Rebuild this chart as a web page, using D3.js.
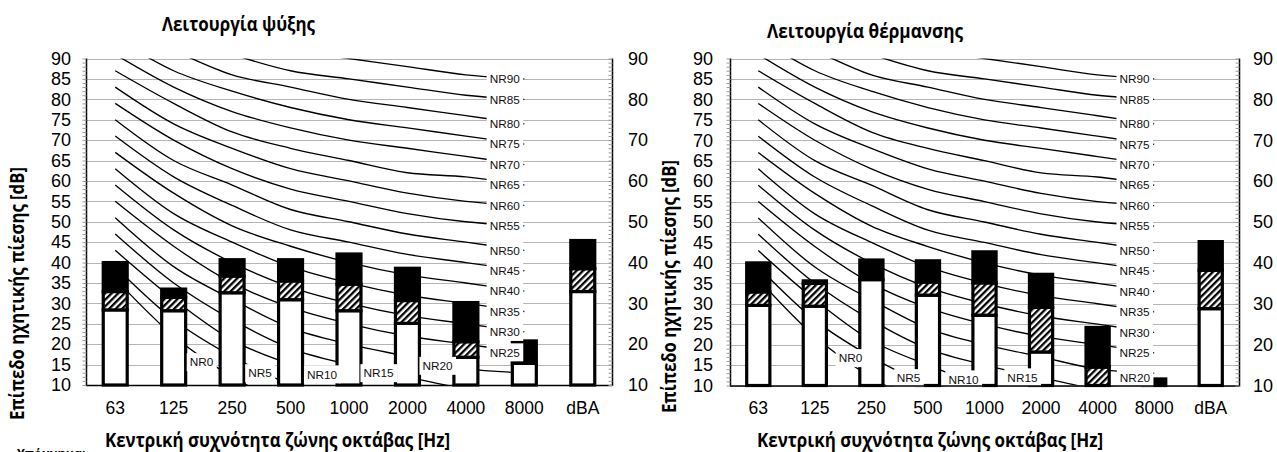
<!DOCTYPE html>
<html>
<head>
<meta charset="utf-8">
<script src="https://cdn.jsdelivr.net/npm/d3@7"></script>
<style>
  html, body { margin: 0; padding: 0; background: #fff; overflow: hidden; }
  svg { display: block; }
</style>
</head>
<body>
<svg id="chart" width="1277" height="452"></svg>
<script>
// ---- data ---------------------------------------------------------------
const categories = ["63", "125", "250", "500", "1000", "2000", "4000", "8000", "dBA"];
const nrBands = ["63", "125", "250", "500", "1000", "2000", "4000", "8000"];

// Noise Rating curves, sound pressure level per octave band [dB]
const nrLevels = [0, 5, 10, 15, 20, 25, 30, 35, 40, 45, 50, 55, 60, 65, 70, 75, 80, 85, 90];
const nrCurves = [
  [36, 22, 12, 5, 0, -4, -6, -8],
  [39, 26, 17, 10, 5, 1, -1, -3],
  [43, 31, 21, 15, 10, 7, 4, 2],
  [47, 35, 26, 19, 15, 12, 9, 7],
  [51, 39, 31, 24, 20, 17, 14, 13],
  [55, 44, 35, 29, 25, 22, 20, 18],
  [59, 48, 40, 34, 30, 27, 25, 23],
  [63, 52, 45, 39, 35, 32, 30, 28],
  [67, 57, 49, 44, 40, 37, 35, 33],
  [71, 61, 54, 48, 45, 42, 40, 38],
  [75, 65, 59, 53, 50, 47, 45, 43],
  [79, 70, 63, 58, 55, 52, 50, 49],
  [83, 74, 68, 63, 60, 57, 55, 54],
  [87, 79, 72, 68, 65, 62, 61, 59],
  [91, 83, 77, 73, 70, 68, 66, 64],
  [95, 87, 82, 78, 75, 73, 71, 69],
  [99, 92, 86, 83, 80, 78, 76, 74],
  [103, 96, 91, 87, 85, 83, 81, 80],
  [107, 100, 96, 92, 90, 88, 86, 85]
];

// Cooling mode: top of the plain part, top of the hatched part, total level [dB]
const coolingBase  = [28.4, 28.2, 32.6, 30.9, 28.2, 25.1, 16.8, 15.3, 32.9];
const coolingHatch = [32.9, 31.5, 36.7, 35.5, 34.7, 30.7, 20.6, 15.3, 38.5];
const coolingTotal = [40.0, 33.5, 40.7, 40.7, 42.1, 38.6, 30.2, 20.8, 45.4];

// Heating mode
const heatingBase  = [29.6, 29.4, 35.9, 32.1, 27.2, 18.2, 10.0, 10.0, 28.8];
const heatingHatch = [32.9, 35.0, 35.9, 35.3, 35.1, 29.1, 14.5, 10.0, 38.2];
const heatingTotal = [40.0, 35.6, 40.7, 40.5, 42.7, 37.2, 24.2, 11.6, 45.2];

// NR labels placed inside the plot: [NR level, category position, dB]
const coolingLowLabels = [[0, 1.477, 15.6], [5, 2.478, 12.9], [10, 3.539, 12.6], [15, 4.505, 12.9], [20, 5.515, 14.7]];
const heatingLowLabels = [[0, 1.63, 16.7], [5, 2.656, 11.8], [10, 3.628, 11.5], [15, 4.671, 12.0], [20, 6.66, 11.9]];

const leftTicks = [10, 15, 20, 25, 30, 35, 40, 45, 50, 55, 60, 65, 70, 75, 80, 85, 90];
const rightTicks = [10, 20, 30, 40, 50, 60, 70, 80, 90];

const titleCooling = "Λειτουργία ψύξης";
const titleHeating = "Λειτουργία θέρμανσης";
const xTitle = "Κεντρική συχνότητα ζώνης οκτάβας [Hz]";
const yTitle = "Επίπεδο ηχητικής πίεσης [dB]";
const noteText = "Υπόμνημα:";

// ---- drawing ------------------------------------------------------------
const NUM_FONT = "'Liberation Sans', Arial, sans-serif";
const TITLE_FONT = "'Open Sans', 'Noto Sans', sans-serif";

const svg = d3.select("#chart");
const defs = svg.append("defs");

const pat = defs.append("pattern")
  .attr("id", "hatch")
  .attr("patternUnits", "userSpaceOnUse")
  .attr("width", 4.6).attr("height", 4.6)
  .attr("patternTransform", "rotate(45)");
pat.append("rect").attr("width", 4.6).attr("height", 4.6).attr("fill", "#fff");
pat.append("rect").attr("width", 2.3).attr("height", 4.6).attr("fill", "#000");

// bold heading text squeezed to a given run length
function heading(parent, text, size, length) {
  return parent.append("text")
    .attr("font-family", TITLE_FONT).attr("font-weight", 700)
    .attr("font-size", size).attr("fill", "#000")
    .attr("text-anchor", "middle")
    .attr("textLength", length).attr("lengthAdjust", "spacingAndGlyphs")
    .text(text);
}

function drawPanel(cfg) {
  const g = svg.append("g");
  const x = d3.scaleBand().domain(categories).range([cfg.x0, cfg.x1]).padding(0);
  const bw = x.bandwidth();
  const xc = c => x(c) + bw / 2;
  const xi = d3.scaleLinear().domain([-0.5, categories.length - 0.5]).range([cfg.x0, cfg.x1]);
  const y = d3.scaleLinear().domain([10, 90]).range([cfg.yBot, cfg.yTop]);

  const clipId = "clip-" + cfg.id;
  defs.append("clipPath").attr("id", clipId)
    .append("rect")
    .attr("x", cfg.x0).attr("y", cfg.yTop)
    .attr("width", cfg.x1 - cfg.x0).attr("height", cfg.yBot - cfg.yTop);

  // horizontal gridlines
  g.append("g").selectAll("line").data(leftTicks).join("line")
    .attr("x1", cfg.x0).attr("x2", cfg.x1)
    .attr("y1", d => Math.round(y(d)) + 0.5).attr("y2", d => Math.round(y(d)) + 0.5)
    .attr("stroke", "#b4b4b4").attr("stroke-width", 1);

  // NR curves
  const line = d3.line()
    .x((d, j) => xc(nrBands[j]))
    .y(d => y(d))
    .curve(d3.curveCardinal.tension(0));
  g.append("g").attr("clip-path", `url(#${clipId})`)
    .selectAll("path").data(nrCurves).join("path")
    .attr("d", d => line(d))
    .attr("fill", "none").attr("stroke", "#000").attr("stroke-width", 1.35);

  // stacked bars
  const barW = bw * 0.41;
  const bars = g.append("g");
  categories.forEach((c, i) => {
    const left = xc(c) - barW / 2;
    const b = cfg.base[i], h = cfg.hatch[i], t = cfg.total[i];
    if (b > 10) {
      bars.append("rect").attr("x", left).attr("width", barW)
        .attr("y", y(b)).attr("height", y(10) - y(b))
        .attr("fill", "#fff").attr("stroke", "#000").attr("stroke-width", 3.2);
    }
    if (h > b) {
      bars.append("rect").attr("x", left).attr("width", barW)
        .attr("y", y(h)).attr("height", y(b) - y(h))
        .attr("fill", "url(#hatch)").attr("stroke", "#000").attr("stroke-width", 3.2);
    }
    bars.append("rect").attr("x", left).attr("width", barW)
      .attr("y", y(t)).attr("height", y(h) - y(t))
      .attr("fill", "#000").attr("stroke", "#000").attr("stroke-width", 3.2);
  });

  // NR labels with white boxes
  const labels = g.append("g");
  function addLabel(text, cx, cy, anchor) {
    const lg = labels.append("g");
    const rect = lg.append("rect").attr("fill", "#fff");
    const tx = lg.append("text")
      .attr("x", cx).attr("y", cy).attr("dy", "0.36em")
      .attr("text-anchor", anchor)
      .attr("font-family", NUM_FONT).attr("font-size", 11.8)
      .attr("fill", "#111").text(text);
    const bb = tx.node().getBBox();
    rect.attr("x", bb.x - 3).attr("y", cy - 9)
      .attr("width", bb.width + 6).attr("height", 18);
  }
  const last = nrBands.length - 1;
  nrLevels.forEach((lv, k) => {
    if (lv >= 25) addLabel("NR" + lv, xc(nrBands[last]) - 4.5, y(nrCurves[k][last]), "end");
  });
  cfg.lowLabels.forEach(([lv, pos, v]) => addLabel("NR" + lv, xi(pos), y(v), "middle"));

  // frame lines
  g.append("line").attr("x1", cfg.x0).attr("x2", cfg.x1)
    .attr("y1", cfg.yBot + 0.5).attr("y2", cfg.yBot + 0.5)
    .attr("stroke", "#000").attr("stroke-width", 1.5);
  g.append("line").attr("x1", cfg.x0 + 0.5).attr("x2", cfg.x0 + 0.5)
    .attr("y1", cfg.yTop).attr("y2", cfg.yBot + 1)
    .attr("stroke", "#000").attr("stroke-width", 1.5);
  g.append("line").attr("x1", cfg.x1 + 0.5).attr("x2", cfg.x1 + 0.5)
    .attr("y1", cfg.yTop).attr("y2", cfg.yBot + 1)
    .attr("stroke", "#000").attr("stroke-width", 1.5);

  // minor ticks every 1 dB
  const minor = d3.range(10, 91, 1);
  const lm = g.append("g").attr("transform", `translate(${cfg.x0 + 0.5},0)`)
    .call(d3.axisLeft(y).tickValues(minor).tickSize(4).tickFormat(""));
  lm.select(".domain").remove();
  lm.selectAll("line").attr("stroke", "#999");
  const rm = g.append("g").attr("transform", `translate(${cfg.x1 + 0.5},0)`)
    .call(d3.axisLeft(y).tickValues(minor).tickSize(4).tickFormat(""));
  rm.select(".domain").remove();
  rm.selectAll("line").attr("stroke", "#999");

  // left axis labels
  const la = g.append("g").attr("transform", `translate(${cfg.x0},0)`)
    .call(d3.axisLeft(y).tickValues(leftTicks).tickSize(0).tickPadding(cfg.leftPad));
  la.select(".domain").remove();
  la.selectAll("text").attr("font-family", NUM_FONT).attr("font-size", 18).attr("fill", "#000");

  // right axis labels
  const ra = g.append("g").attr("transform", `translate(${cfg.x1},0)`)
    .call(d3.axisRight(y).tickValues(rightTicks).tickSize(0).tickPadding(cfg.rightPad));
  ra.select(".domain").remove();
  ra.selectAll("text").attr("font-family", NUM_FONT).attr("font-size", 18).attr("fill", "#000");

  // category axis
  const ba = g.append("g").attr("transform", `translate(0,${cfg.yBot})`)
    .call(d3.axisBottom(x).tickSize(0).tickPadding(16.5));
  ba.select(".domain").remove();
  ba.selectAll("text").attr("font-family", NUM_FONT).attr("font-size", 17.5).attr("fill", "#000");

  // titles
  heading(g, cfg.titleText, 19.5, cfg.titleWidth)
    .attr("x", cfg.title[0]).attr("y", cfg.title[1]);
  heading(g, xTitle, 19, cfg.xTitleWidth)
    .attr("x", cfg.xTitle[0]).attr("y", cfg.xTitle[1]);
  heading(g, yTitle, 19.5, cfg.yTitleWidth)
    .attr("x", 0).attr("y", 0).attr("dy", "0.36em")
    .attr("transform", `translate(${cfg.yTitle[0]},${cfg.yTitle[1]}) rotate(-90)`);
}

drawPanel({
  id: "cooling", x0: 86, x1: 612, yTop: 58.5, yBot: 385,
  base: coolingBase, hatch: coolingHatch, total: coolingTotal,
  lowLabels: coolingLowLabels,
  leftPad: 15, rightPad: 16,
  titleText: titleCooling, title: [238.5, 31], titleWidth: 153,
  xTitle: [277.5, 446.5], xTitleWidth: 345,
  yTitle: [17, 293.5], yTitleWidth: 253
});

drawPanel({
  id: "heating", x0: 730, x1: 1239, yTop: 58.5, yBot: 385.5,
  base: heatingBase, hatch: heatingHatch, total: heatingTotal,
  lowLabels: heatingLowLabels,
  leftPad: 17, rightPad: 14,
  titleText: titleHeating, title: [865, 37.5], titleWidth: 196,
  xTitle: [930, 446.5], xTitleWidth: 346,
  yTitle: [668.5, 286.5], yTitleWidth: 253
});

// note heading at the lower edge
svg.append("text")
  .attr("x", 17).attr("y", 457.5)
  .attr("font-family", TITLE_FONT).attr("font-weight", 700)
  .attr("font-size", 12.5).attr("fill", "#000").text(noteText);
</script>
</body>
</html>
